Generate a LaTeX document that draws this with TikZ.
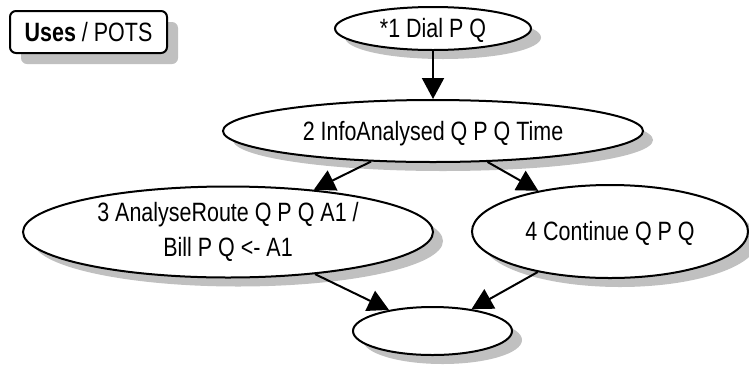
\documentclass[tikz,border=0pt]{standalone}
\usepackage{fontspec}
\setmainfont{Liberation Sans}[FakeStretch=0.81]
\usetikzlibrary{shapes.geometric,shadows,arrows.meta}
\definecolor{shadowgray}{RGB}{192,192,192}
\tikzset{
  stateell/.style={ellipse, draw, line width=2pt, fill=white, inner sep=0pt,
    font=\fontsize{26.5}{35}\selectfont, align=center,
    drop shadow={shadow xshift=10pt, shadow yshift=-9pt, fill=shadowgray, opacity=1}},
  oneline/.style={text height=18.5pt, text depth=0pt},
  titlebox/.style={rectangle, draw, line width=2pt, rounded corners=6pt, fill=white,
    inner sep=0pt, font=\fontsize{26.5}{30}\selectfont, text height=18.5pt, text depth=0pt,
    drop shadow={shadow xshift=11pt, shadow yshift=-11pt, fill=shadowgray, opacity=1}},
  conn/.style={line width=2pt, -{Triangle[length=21pt,width=22pt]}},
}
\begin{document}
\begin{tikzpicture}[x=1pt,y=-1pt]
\useasboundingbox (0,0) rectangle (749,365);
\node[titlebox, minimum width=157pt, minimum height=42pt] (title) at (88.5,32) {\textbf{Uses} / POTS\hspace{8pt}};
\node[stateell, oneline, minimum width=196pt, minimum height=43pt] (e1) at (433,28.5) {*1 Dial P Q};
\node[stateell, oneline, minimum width=420pt, minimum height=62pt] (e2) at (433,131) {2 InfoAnalysed Q P Q Time};
\node[stateell, minimum width=410pt, minimum height=91pt] (e3) at (228,232) {3 AnalyseRoute Q P Q A1 /\\Bill P Q <- A1};
\node[stateell, oneline, minimum width=276pt, minimum height=93pt] (e4) at (610,231.5) {4 Continue Q P Q};
\node[stateell, minimum width=159pt, minimum height=48pt] (e5) at (432.5,331) {};
\draw[conn] (e1) -- (e2);
\draw[conn] (e2) -- (e3);
\draw[conn] (e2) -- (e4);
\draw[conn] (e3) -- (e5);
\draw[conn] (e4) -- (e5);
\end{tikzpicture}
\end{document}
